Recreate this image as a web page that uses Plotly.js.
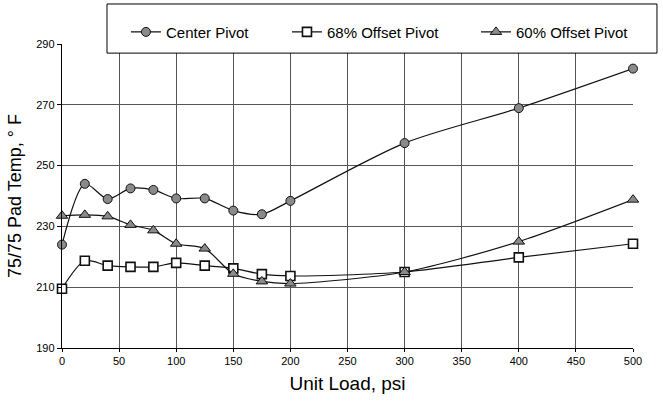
<!DOCTYPE html>
<html>
<head>
<meta charset="utf-8">
<script src="https://cdn.plot.ly/plotly-3.0.1.min.js"></script>
<style>html,body{margin:0;padding:0;background:#fff;}#chart{width:663px;height:404px;}</style>
</head>
<body>
<div id="chart"></div>
<script>
const unitLoad = [0, 20, 40, 60, 80, 100, 125, 150, 175, 200, 300, 400, 500];
const centerPivot = [224, 244, 239, 242.5, 242, 239.2, 239.2, 235.2, 234, 238.4, 257.4, 268.9, 281.9];
const offset68 = [209.5, 218.7, 217.1, 216.7, 216.7, 218, 217.1, 216.2, 214.3, 213.7, 215, 219.8, 224.3];
const offset60 = [233.5, 233.8, 233.3, 230.5, 228.7, 224.3, 222.7, 214.4, 211.9, 211.2, 215, 225, 238.8];
const seriesNames = ['Center Pivot', '68% Offset Pivot', '60% Offset Pivot'];
const xTicks = [0, 50, 100, 150, 200, 250, 300, 350, 400, 450, 500];
const yTicks = [190, 210, 230, 250, 270, 290];

const lineStyle = {color: '#111', width: 1.2, shape: 'spline', smoothing: 0.8};
const traces = [
  {x: unitLoad, y: centerPivot, name: seriesNames[0], mode: 'lines+markers', line: lineStyle,
   marker: {symbol: 'circle', size: 9, color: '#8a8a8a', line: {color: '#111', width: 1}},
   cliponaxis: false, legend: 'legend'},
  {x: unitLoad, y: offset68, name: seriesNames[1], mode: 'lines+markers', line: lineStyle,
   marker: {symbol: 'square', size: 9, color: '#fff', line: {color: '#111', width: 1.6}},
   cliponaxis: false, legend: 'legend2'},
  {x: unitLoad, y: offset60, name: seriesNames[2], mode: 'lines+markers', line: lineStyle,
   marker: {symbol: 'triangle-up', size: 10, color: '#8a8a8a', line: {color: '#111', width: 1}},
   cliponaxis: false, legend: 'legend3'}
];

const font = {family: 'Liberation Sans, Arial, sans-serif', color: '#000'};
const legBase = {orientation: 'h', yanchor: 'middle', xanchor: 'left', bgcolor: 'rgba(0,0,0,0)',
  borderwidth: 0, font: Object.assign({}, font, {size: 15})};

const layout = {
  width: 663, height: 404,
  margin: {l: 62, r: 30, t: 44, b: 56},
  paper_bgcolor: '#fff', plot_bgcolor: '#fff',
  font: font,
  showlegend: true,
  xaxis: {
    range: [0, 500], tickvals: xTicks, ticktext: xTicks.map(String),
    showgrid: true, gridcolor: '#555', gridwidth: 1,
    showline: true, linecolor: '#000', linewidth: 1.2,
    ticks: 'outside', ticklen: 3, tickcolor: '#000',
    zeroline: false, tickfont: Object.assign({}, font, {size: 11}),
    title: {text: 'Unit Load, psi', font: Object.assign({}, font, {size: 19}), standoff: 10}
  },
  yaxis: {
    range: [190, 290], tickvals: yTicks, ticktext: yTicks.map(String),
    showgrid: true, gridcolor: '#555', gridwidth: 1,
    showline: true, linecolor: '#000', linewidth: 1.2,
    ticks: 'outside', ticklen: 4, tickcolor: '#000',
    zeroline: false, tickfont: Object.assign({}, font, {size: 11}),
    title: {text: '75/75 Pad Temp, ° F', font: Object.assign({}, font, {size: 18}), standoff: 10}
  },
  legend: Object.assign({}, legBase, {x: 0.112, y: 1.039}),
  legend2: Object.assign({}, legBase, {x: 0.394, y: 1.039}),
  legend3: Object.assign({}, legBase, {x: 0.725, y: 1.039}),
  shapes: [
    {type: 'rect', xref: 'paper', yref: 'paper', x0: 0.0788, x1: 1.042, y0: 0.970, y1: 1.1316,
     line: {color: '#000', width: 1}, fillcolor: '#fff', layer: 'above'}
  ]
};

Plotly.newPlot('chart', traces, layout, {staticPlot: true, displayModeBar: false});
</script>
</body>
</html>
